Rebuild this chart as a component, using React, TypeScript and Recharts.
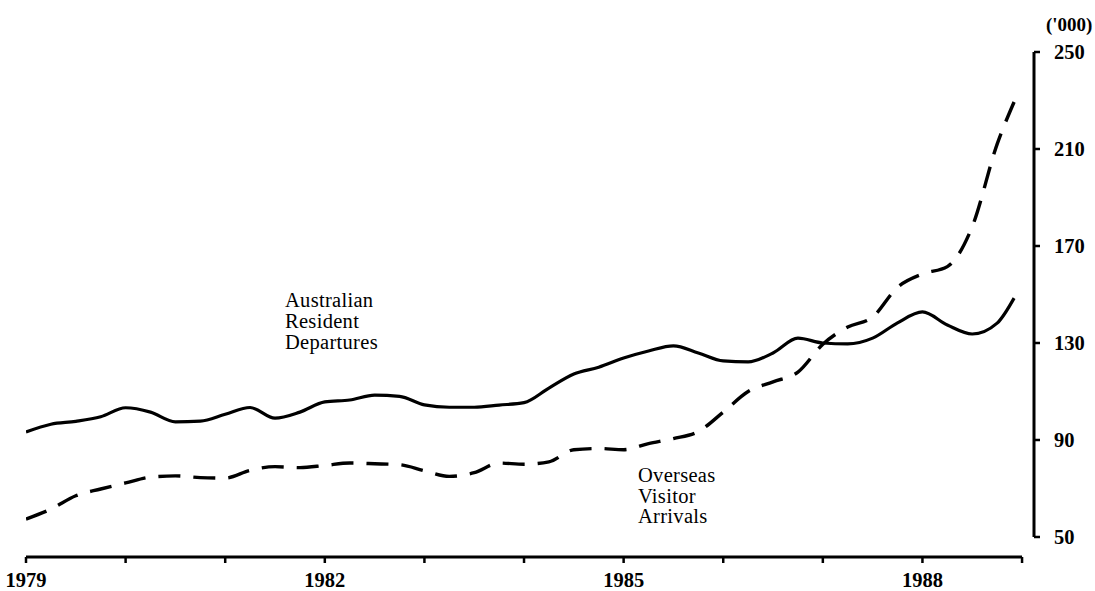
import React from 'react';
import { LineChart, Line, XAxis, YAxis, ReferenceLine } from 'recharts';

// quarter positions (decimal years), last point is the latest reading
const PERIODS = [
  1979, 1979.25, 1979.5, 1979.75, 1980, 1980.25, 1980.5, 1980.75,
  1981, 1981.25, 1981.5, 1981.75, 1982, 1982.25, 1982.5, 1982.75,
  1983, 1983.25, 1983.5, 1983.75, 1984, 1984.25, 1984.5, 1984.75,
  1985, 1985.25, 1985.5, 1985.75, 1986, 1986.25, 1986.5, 1986.75,
  1987, 1987.25, 1987.5, 1987.75, 1988, 1988.25, 1988.5, 1988.75, 1988.92,
];

// Australian resident departures ('000)
const DEPARTURES = [
  93.3, 96.5, 97.7, 99.6, 103.3, 101.5, 97.5, 97.8,
  100.6, 103.4, 99.0, 101.5, 105.7, 106.5, 108.5, 108.0,
  104.5, 103.5, 103.5, 104.4, 105.4, 111.4, 117.2, 120.0,
  123.8, 126.7, 128.8, 125.9, 122.6, 122.2, 125.9, 132.0,
  130.0, 129.6, 132.0, 138.3, 142.8, 137.4, 133.7, 138.2, 148.5,
];

// Overseas visitor arrivals ('000)
const ARRIVALS = [
  57.4, 61.5, 67.0, 69.8, 72.3, 74.7, 75.2, 74.5,
  74.3, 77.5, 79.0, 78.6, 79.5, 80.5, 80.2, 79.8,
  77.3, 75.0, 76.5, 80.5, 80.0, 81.0, 86.0, 86.5,
  86.0, 88.5, 90.6, 93.5, 101.5, 110.0, 114.0, 118.0,
  129.5, 136.6, 140.7, 153.0, 158.5, 161.5, 178.0, 212.0, 229.4,
];

const YEAR_TICKS = [1979, 1980, 1981, 1982, 1983, 1984, 1985, 1986, 1987, 1988, 1989];
const YEAR_LABELS = [1979, 1982, 1985, 1988];
const VALUE_TICKS = [50, 90, 130, 170, 210, 250];

const FONT = '"Liberation Serif", "DejaVu Serif", serif';

const rows = PERIODS.map((t, i) => ({
  t,
  departures: DEPARTURES[i],
  arrivals: ARRIVALS[i],
}));

export default function App() {
  return (
    <div style={{ position: 'absolute', left: 0, top: 0, width: 1095, height: 591, background: '#fff' }}>
      <LineChart width={1095} height={591} data={rows} margin={{ top: 52, right: 1, bottom: 0, left: 26 }}>
        <XAxis
          dataKey="t"
          type="number"
          domain={[1979, 1989.12]}
          ticks={YEAR_TICKS}
          tickFormatter={(v: number) => (YEAR_LABELS.includes(v) ? String(v) : '')}
          axisLine={false}
          tickLine={{ stroke: '#000', strokeWidth: 2.5 }}
          tickSize={6}
          tickMargin={9}
          height={34}
          tick={{ fill: '#000', fontSize: 20.5, fontWeight: 'bold', fontFamily: FONT }}
          allowDataOverflow
        />
        <YAxis
          orientation="right"
          type="number"
          domain={[41.75, 250]}
          ticks={VALUE_TICKS}
          axisLine={false}
          tickLine={{ stroke: '#000', strokeWidth: 2.5 }}
          tickSize={6}
          tickMargin={14}
          width={60}
          tick={{ fill: '#000', fontSize: 20.5, fontWeight: 'bold', fontFamily: FONT, textAnchor: 'start' }}
          allowDataOverflow
        />
        {/* axis lines drawn separately so they stop where the original ones do */}
        <ReferenceLine
          segment={[{ x: 1979, y: 41.75 }, { x: 1989, y: 41.75 }]}
          stroke="#000"
          strokeWidth={3}
          ifOverflow="visible"
        />
        <ReferenceLine
          segment={[{ x: 1989.12, y: 50 }, { x: 1989.12, y: 250 }]}
          stroke="#000"
          strokeWidth={3}
          ifOverflow="visible"
        />
        <Line
          dataKey="departures"
          type="monotone"
          stroke="#000"
          strokeWidth={3.2}
          dot={false}
          isAnimationActive={false}
        />
        <Line
          dataKey="arrivals"
          type="monotone"
          stroke="#000"
          strokeWidth={3.4}
          strokeDasharray="22 13"
          dot={false}
          isAnimationActive={false}
        />
      </LineChart>

      {/* unit and series captions */}
      <svg width={1095} height={591} style={{ position: 'absolute', left: 0, top: 0, pointerEvents: 'none' }}>
        <text x={1046} y={31} fontFamily={FONT} fontSize={19} fontWeight="bold" fill="#000">('000)</text>
        <text fontFamily={FONT} fontSize={20.5} fill="#000" letterSpacing={0.3}>
          <tspan x={285} y={307}>Australian</tspan>
          <tspan x={285} y={328}>Resident</tspan>
          <tspan x={285} y={349}>Departures</tspan>
        </text>
        <text fontFamily={FONT} fontSize={20.5} fill="#000" letterSpacing={0.3}>
          <tspan x={638} y={482}>Overseas</tspan>
          <tspan x={638} y={503}>Visitor</tspan>
          <tspan x={638} y={523}>Arrivals</tspan>
        </text>
      </svg>
    </div>
  );
}
